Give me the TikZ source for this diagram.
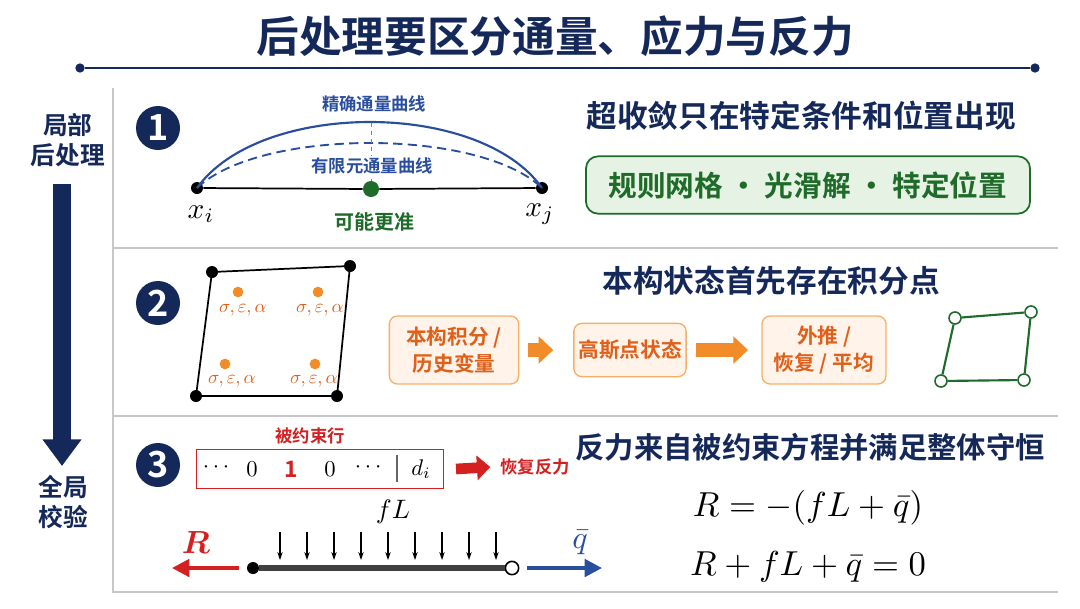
\documentclass[tikz,border=0pt]{standalone}
\usepackage{amsmath}
\usepackage{fontspec}
\setmainfont{Noto Sans CJK SC}[BoldFont={* Bold}]
\usetikzlibrary{arrows.meta}
\definecolor{navy}{HTML}{15285A}
\definecolor{fblue}{HTML}{2A4E9E}
\definecolor{dgreen}{HTML}{1E6B2A}
\definecolor{lgreen}{HTML}{E6F2E3}
\definecolor{orng}{HTML}{F28C28}
\definecolor{lorng}{HTML}{FFF3EA}
\definecolor{ored}{HTML}{E0601A}
\definecolor{rred}{HTML}{D42020}
\begin{document}
\begin{tikzpicture}[x=0.75pt,y=-0.75pt,
  num/.style={circle,fill=navy,text=white,minimum size=33pt,inner sep=0pt,font=\bfseries\fontsize{27}{27}\selectfont},
  sect/.style={text=navy,font=\bfseries\fontsize{23}{26}\selectfont},
  obox/.style={draw=orng!70,fill=lorng,rounded corners=6pt,line width=1pt,text=ored,font=\bfseries\fontsize{15.5}{20}\selectfont,align=center},
  oarr/.style={-{Triangle[length=11pt,width=20pt]},orng,line width=10pt},
  bdot/.style={circle,fill=black,inner sep=0pt,minimum size=9pt},
  gp/.style={circle,fill=orng,inner sep=0pt,minimum size=8pt},
  gpl/.style={text=ored},
  hc/.style={circle,draw=dgreen,fill=white,line width=1.2pt,inner sep=0pt,minimum size=9pt}]
\useasboundingbox (0,0) rectangle (1080,608);
\fill[white] (0,0) rectangle (1080,608);
% title
\node[text=navy,font=\bfseries\fontsize{32}{34}\selectfont] (title) at (555,36) {后处理要区分通量、应力与反力};
\node[circle,fill=navy,inner sep=0pt,minimum size=7pt] (tl) at (80,68) {};
\node[circle,fill=navy,inner sep=0pt,minimum size=7pt] (tr) at (1035,68) {};
\draw[navy,line width=2pt] (tl) -- (tr);
% left
\node[text=navy,font=\bfseries\fontsize{18.5}{23}\selectfont,align=center] (loc) at (68,140) {局部\\后处理};
\node[text=navy,font=\bfseries\fontsize{18.5}{23}\selectfont,align=center] (glob) at (63,502) {全局\\校验};
\draw[navy,line width=13pt,-{Triangle[length=20pt,width=28pt]}] (62,184) -- (62,466);
% panel lines
\draw[black!22,line width=1.2pt] (113,88) -- (113,592) -- (1058,592);
\draw[black!22,line width=1.2pt] (113,248) -- (1058,248);
\draw[black!22,line width=1.2pt] (113,416) -- (1058,416);
% ---------- panel 1
\node[num] (n1) at (158,128) {1};
\node[bdot] (xi) at (197,188) {};
\node[bdot] (xj) at (542,188) {};
\node[circle,fill=dgreen,inner sep=0pt,minimum size=12pt] (mid) at (371,189) {};
\draw[line width=1.3pt] (xi) -- (mid) -- (xj);
\draw[fblue,line width=1.6pt] (xi.center) .. controls (260,100) and (480,100) .. (xj.center);
\draw[fblue,line width=1.4pt,dash pattern=on 7pt off 4pt] (xi.center) .. controls (260,128) and (480,128) .. (xj.center);
\draw[dgreen!70,dashed,line width=0.6pt] (371,123) -- (mid);
\node[text=fblue,font=\bfseries\fontsize{13}{13}\selectfont] (ex) at (374,104) {精确通量曲线};
\node[text=fblue,font=\bfseries\fontsize{13}{13}\selectfont,fill=white,inner sep=1pt] (fe) at (372,166) {有限元通量曲线};
\node[text=dgreen,font=\bfseries\fontsize{15}{15}\selectfont] (acc) at (374,222) {可能更准};
\node (lxi) at (201,214) {\scalebox{2.2}{$x_i$}};
\node (lxj) at (540,214) {\scalebox{2.2}{$x_j$}};
\node[sect] (s1) at (801,116) {超收敛只在特定条件和位置出现};
\node[draw=dgreen,fill=lgreen,line width=1.3pt,rounded corners=9pt,minimum width=333pt,minimum height=43pt,text=dgreen,font=\bfseries\fontsize{21.5}{22}\selectfont] (gbox) at (808,185) {规则网格 · 光滑解 · 特定位置};
% ---------- panel 2
\node[num] (n2) at (158,303) {2};
\node[bdot] (q1) at (212,272) {};
\node[bdot] (q2) at (350,266) {};
\node[bdot] (q3) at (337,396) {};
\node[bdot] (q4) at (196,396) {};
\draw[line width=1.3pt] (q1.center) -- (q2.center) -- (q3.center) -- (q4.center) -- cycle;
\node[gp] (g1) at (238,292) {}; \node[gpl] (l1) at (243,310) {\scalebox{1.4}{$\sigma,\varepsilon,\alpha$}};
\node[gp] (g2) at (318,292) {}; \node[gpl] (l2) at (320,310) {\scalebox{1.4}{$\sigma,\varepsilon,\alpha$}};
\node[gp] (g3) at (225,364) {}; \node[gpl] (l3) at (232,381) {\scalebox{1.4}{$\sigma,\varepsilon,\alpha$}};
\node[gp] (g4) at (315,364) {}; \node[gpl] (l4) at (314,381) {\scalebox{1.4}{$\sigma,\varepsilon,\alpha$}};
\node[sect] (s2) at (771,281) {本构状态首先存在积分点};
\node[obox,minimum width=97pt,minimum height=51pt] (b1) at (454,350) {本构积分 /\\历史变量};
\node[obox,minimum width=80pt,minimum height=40pt] (b2) at (630,350) {高斯点状态};
\node[obox,minimum width=93pt,minimum height=51pt] (b3) at (824,350) {外推 /\\恢复 / 平均};
\draw[oarr] (b1.east) ++(9,0) -- ([xshift=-15pt]b2.west);
\draw[oarr] (b2.east) ++(9,0) -- ([xshift=-10pt]b3.west);
\node[hc] (h1) at (955,318) {};
\node[hc] (h2) at (1031,312) {};
\node[hc] (h3) at (1024,380) {};
\node[hc] (h4) at (941,381) {};
\draw[dgreen,line width=1.6pt] (h1) -- (h2) -- (h3) -- (h4) -- (h1);
% ---------- panel 3
\node[num] (n3) at (158,465) {3};
\node[text=rred,font=\bfseries\fontsize{13}{13}\selectfont] (cr) at (310,436) {被约束行};
\node[draw=rred,line width=1pt,minimum width=185pt,minimum height=29pt] (row) at (320,469) {};
\node at (218,467) {\scalebox{1.7}{$\cdots$}};
\node at (252,469) {\scalebox{1.7}{$0$}};
\node[text=rred] at (291,469) {\scalebox{1.7}{$\mathbf{1}$}};
\node at (330,469) {\scalebox{1.7}{$0$}};
\node at (370,467) {\scalebox{1.7}{$\cdots$}};
\draw[black!60,line width=0.8pt] (397,455) -- (397,482);
\node at (421,469) {\scalebox{1.7}{$d_i$}};
\node[text=rred,font=\bfseries\fontsize{13}{13}\selectfont] (rec) at (535,467) {恢复反力};
\draw[rred,line width=8pt,-{Triangle[length=10pt,width=18pt]}] (row.east) ++(12,0) -- ([xshift=-4pt]rec.west);
\node[sect,font=\bfseries\fontsize{22}{26}\selectfont] (s3) at (810,447) {反力来自被约束方程并满足整体守恒};
\node (eq1) at (808,508) {\scalebox{2.6}{$R=-(fL+\bar q)$}};
\node (eq2) at (808,567) {\scalebox{2.6}{$R+fL+\bar q=0$}};
\node[bdot] (ba) at (253,568) {};
\node[circle,draw=black,fill=white,line width=1.2pt,inner sep=0pt,minimum size=10pt] (bb) at (512,568) {};
\draw[black!75,line width=4.5pt] (ba) -- (bb);
\foreach \i in {0,...,8} {\draw[line width=0.8pt,-{Stealth[length=6pt,width=4pt]}] (280+27*\i,532) -- (280+27*\i,560);}
\node (fl) at (393,512) {\scalebox{2.0}{$fL$}};
\coordinate (rl) at (172,568);
\coordinate (qr) at (602,568);
\draw[rred,line width=2.8pt,-{Triangle[length=13pt,width=13pt]}] (ba.west) ++(-8,0) -- (rl);
\draw[fblue,line width=2.8pt,-{Triangle[length=13pt,width=13pt]}] (bb.east) ++(8,0) -- (qr);
\node[text=rred] (lr) at (196,543) {\scalebox{2.4}{$\boldsymbol{R}$}};
\node[text=fblue] (lq) at (580,543) {\scalebox{2.4}{$\bar q$}};
\end{tikzpicture}
\end{document}
